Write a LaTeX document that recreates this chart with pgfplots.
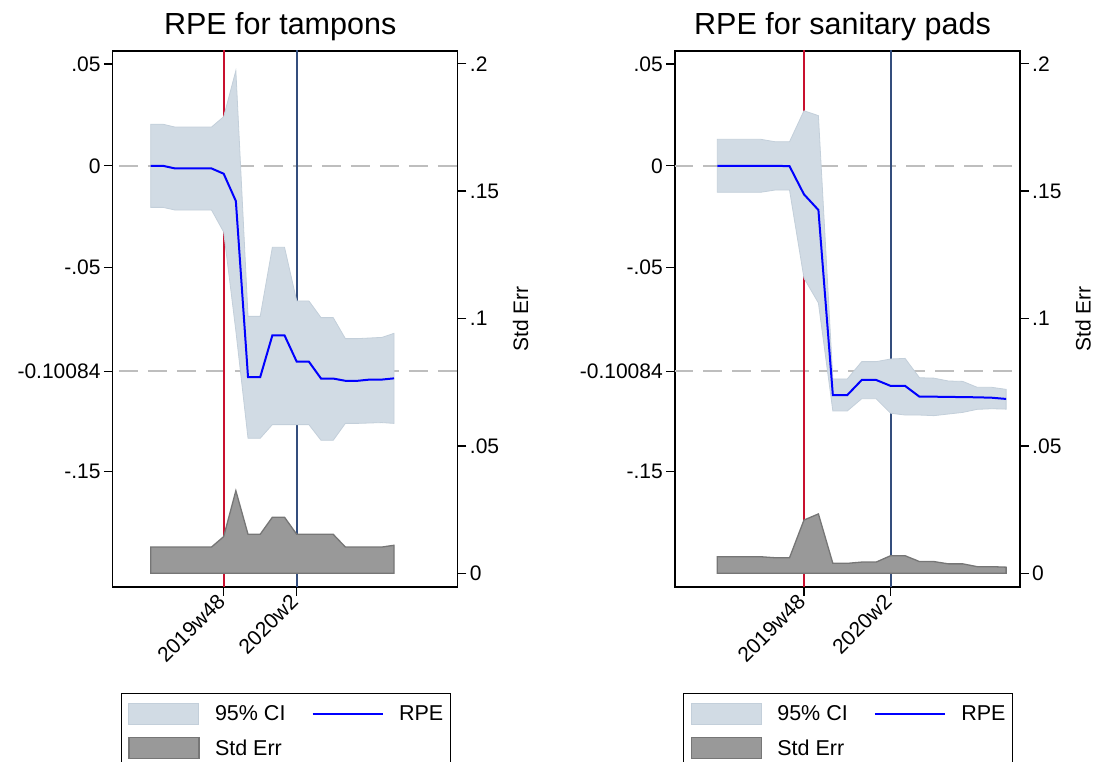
\documentclass[border=0pt]{standalone}
\usepackage{fontspec}
\setmainfont{Liberation Sans}
\usepackage{pgfplots}
\usepackage{pgfplotstable}
\pgfplotsset{compat=1.18}

\definecolor{ciFill}{RGB}{209,219,228}
\definecolor{ciEdge}{RGB}{195,207,218}
\definecolor{seFill}{RGB}{153,153,153}
\definecolor{seEdge}{RGB}{118,118,118}
\definecolor{rpeBlue}{RGB}{0,0,255}
\definecolor{redLine}{RGB}{200,16,46}
\definecolor{navyLine}{RGB}{52,78,125}
\definecolor{refGray}{RGB}{190,190,190}

% x = week index (0 = 2019w42, 6 = 2019w48, 12 = 2020w2)
\pgfplotstableread{
x rpe se
0 0.0000 0.0103
1 0.0000 0.0103
2 -0.0013 0.0103
3 -0.0013 0.0103
4 -0.0013 0.0103
5 -0.0013 0.0103
6 -0.0039 0.0144
7 -0.0173 0.0324
8 -0.1037 0.0153
9 -0.1037 0.0153
10 -0.0832 0.0220
11 -0.0832 0.0220
12 -0.0961 0.0153
13 -0.0961 0.0153
14 -0.1044 0.0153
15 -0.1044 0.0153
16 -0.1055 0.0103
17 -0.1055 0.0103
18 -0.1049 0.0103
19 -0.1049 0.0103
20 -0.1043 0.0110
}\tampons

% 95% CI polygon: upper bound forward, lower bound backward
\pgfplotstableread{
x y
0 0.0204
1 0.0204
2 0.0190
3 0.0190
4 0.0190
5 0.0190
6 0.0241
7 0.0467
8 -0.0739
9 -0.0739
10 -0.0400
11 -0.0400
12 -0.0663
13 -0.0663
14 -0.0745
15 -0.0745
16 -0.0848
17 -0.0848
18 -0.0845
19 -0.0842
20 -0.0822
20 -0.1264
19 -0.1260
18 -0.1262
17 -0.1264
16 -0.1264
15 -0.1347
14 -0.1347
13 -0.1270
12 -0.1270
11 -0.1270
10 -0.1270
9 -0.1337
8 -0.1337
7 -0.0810
6 -0.0325
5 -0.0217
4 -0.0217
3 -0.0217
2 -0.0217
1 -0.0204
0 -0.0204
}\tamponsCI

\pgfplotstableread{
x rpe se
0 0.0000 0.0065
1 0.0000 0.0065
2 0.0000 0.0065
3 0.0000 0.0065
4 0.0000 0.0061
5 -0.0002 0.0061
6 -0.0140 0.0209
7 -0.0217 0.0233
8 -0.1125 0.0039
9 -0.1125 0.0039
10 -0.1051 0.0044
11 -0.1051 0.0044
12 -0.1080 0.0069
13 -0.1080 0.0069
14 -0.1133 0.0046
15 -0.1133 0.0046
16 -0.1134 0.0037
17 -0.1135 0.0037
18 -0.1136 0.0026
19 -0.1138 0.0026
20 -0.1144 0.0024
}\pads

\pgfplotstableread{
x y
0 0.0130
1 0.0130
2 0.0130
3 0.0130
4 0.0118
5 0.0118
6 0.0270
7 0.0246
8 -0.1046
9 -0.1046
10 -0.0961
11 -0.0961
12 -0.0948
13 -0.0945
14 -0.1040
15 -0.1042
16 -0.1056
17 -0.1058
18 -0.1087
19 -0.1087
20 -0.1097
20 -0.1194
19 -0.1192
18 -0.1195
17 -0.1210
16 -0.1218
15 -0.1226
14 -0.1223
13 -0.1223
12 -0.1214
11 -0.1143
10 -0.1143
9 -0.1203
8 -0.1203
7 -0.0673
6 -0.0551
5 -0.0119
4 -0.0119
3 -0.0130
2 -0.0130
1 -0.0130
0 -0.0130
}\padsCI

\pgfplotsset{
  areaLeg/.style={legend image code/.code={\draw[##1] (0pt,-10.5pt) rectangle (70pt,10.5pt);}},
  lineLeg/.style={legend image code/.code={\draw[##1] (0pt,0pt) -- (70pt,0pt);}},
  panelbase/.style={scale only axis, width=345pt, height=536pt, anchor=south west,
     tick align=outside, major tick length=8.7pt,
     tick style={black, line width=1.3pt},
     axis line style={black, line width=1.3pt},
     tick label style={font=\fontsize{21}{25}\selectfont},
     scaled ticks=false},
  mainax/.style={panelbase, ymin=-0.20667, ymax=0.05633,
     xtick={6,12}, xticklabels={2019w48,2020w2}, xtick pos=left, ytick pos=left,
     ytick={-0.15,-0.10084,-0.05,0,0.05}, yticklabels={-.15,-0.10084,-.05,0,.05},
     xticklabel style={rotate=45, anchor=east},
     title style={at={(axis description cs:0.5,1)}, anchor=base, yshift=10pt, xshift=-5pt,
                  font=\fontsize{30.5}{36}\selectfont}},
  seax/.style={panelbase, ymin=-0.00538, ymax=0.20498, hide x axis, axis y line*=right,
     ytick={0,0.05,0.1,0.15,0.2}, yticklabels={0,.05,.1,.15,.2},
     every axis y label/.style={at={(axis description cs:1,0.5)}, xshift=63pt, rotate=90,
                  anchor=center, font=\fontsize{21}{25}\selectfont},
     ylabel={Std Err},
     legend columns=2, legend cell align=left,
     legend style={at={(axis description cs:0.0232,-0.1978)}, anchor=north west,
        draw=black, line width=1pt, inner xsep=7pt, inner ysep=9.5pt, row sep=12pt,
        font=\fontsize{21.5}{25}\selectfont, nodes={inner sep=0pt},
        /tikz/every odd column/.style={column sep=15.5pt},
        /tikz/every even column/.style={column sep=26pt}}},
}

\begin{document}
\begin{tikzpicture}
\useasboundingbox (0pt,0pt) rectangle (1096pt,762pt);
\clip (0pt,0pt) rectangle (1096pt,762pt);

% ---------------- Left panel: tampons ----------------
\begin{axis}[mainax, at={(112.7pt,175pt)}, xmin=-3.12, xmax=25.23, title={RPE for tampons}]
\addplot[refGray, line width=2pt, dash pattern=on 19pt off 10pt] coordinates {(-5,0) (30,0)};
\addplot[refGray, line width=2pt, dash pattern=on 19pt off 10pt] coordinates {(-5,-0.10084) (30,-0.10084)};
\addplot[redLine, line width=2pt] coordinates {(6,-0.3) (6,0.1)};
\addplot[navyLine, line width=2pt] coordinates {(12,-0.3) (12,0.1)};
\addplot[fill=ciFill, draw=ciEdge, line width=0.8pt] table[x=x,y=y]{\tamponsCI} -- cycle;
\addplot[rpeBlue, line width=2pt] table[x=x,y=rpe]{\tampons};
\end{axis}
\begin{axis}[seax, at={(112.7pt,175pt)}, xmin=-3.12, xmax=25.23]
\addlegendimage{areaLeg, fill=ciFill, draw=ciEdge, line width=1pt}
\addlegendentry{95\% CI}
\addlegendimage{lineLeg, rpeBlue, line width=2pt}
\addlegendentry{RPE}
\addplot[areaLeg, fill=seFill, draw=seEdge, line width=1.3pt] table[x=x,y=se]{\tampons} \closedcycle;
\addlegendentry{Std Err}
\end{axis}

% ---------------- Right panel: sanitary pads ----------------
\begin{axis}[mainax, at={(675pt,175pt)}, xmin=-2.93, xmax=20.96, title={RPE for sanitary pads}]
\addplot[refGray, line width=2pt, dash pattern=on 19pt off 10pt] coordinates {(-5,0) (30,0)};
\addplot[refGray, line width=2pt, dash pattern=on 19pt off 10pt] coordinates {(-5,-0.10084) (30,-0.10084)};
\addplot[redLine, line width=2pt] coordinates {(6,-0.3) (6,0.1)};
\addplot[navyLine, line width=2pt] coordinates {(12,-0.3) (12,0.1)};
\addplot[fill=ciFill, draw=ciEdge, line width=0.8pt] table[x=x,y=y]{\padsCI} -- cycle;
\addplot[rpeBlue, line width=2pt] table[x=x,y=rpe]{\pads};
\end{axis}
\begin{axis}[seax, at={(675pt,175pt)}, xmin=-2.93, xmax=20.96]
\addlegendimage{areaLeg, fill=ciFill, draw=ciEdge, line width=1pt}
\addlegendentry{95\% CI}
\addlegendimage{lineLeg, rpeBlue, line width=2pt}
\addlegendentry{RPE}
\addplot[areaLeg, fill=seFill, draw=seEdge, line width=1.3pt] table[x=x,y=se]{\pads} \closedcycle;
\addlegendentry{Std Err}
\end{axis}
\end{tikzpicture}
\end{document}
